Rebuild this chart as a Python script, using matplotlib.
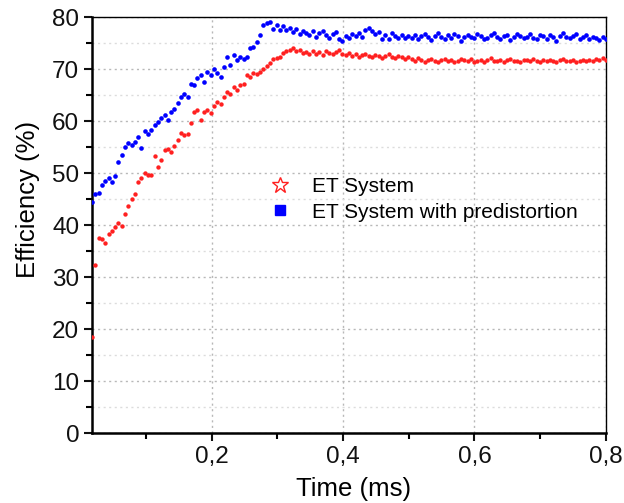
import matplotlib
matplotlib.use('Agg')
import matplotlib.pyplot as plt
from matplotlib.lines import Line2D
from matplotlib.ticker import FuncFormatter, MultipleLocator
import numpy as np

# efficiency samples (%) over the measured burst, one sample every ~5 us
eff_et = [18.5, 32.3, 37.6, 37.3, 36.6, 38.3, 38.9, 39.6, 40.4, 39.8,
          42.1, 43.7, 45.0, 46.0, 48.3, 49.0, 50.0, 49.6, 49.6, 53.3,
          51.2, 52.6, 54.4, 54.6, 54.1, 55.2, 56.3, 57.7, 57.3, 57.6,
          59.7, 61.7, 62.2, 60.2, 61.8, 62.1, 61.5, 62.9, 63.7, 63.3,
          64.7, 65.5, 65.3, 66.6, 66.0, 66.9, 67.2, 68.8, 68.5, 69.2,
          69.0, 69.5, 70.1, 70.6, 71.1, 72.0, 72.2, 72.4, 73.1, 73.5,
          73.7, 74.0, 73.4, 73.6, 73.1,
          73.3, 72.9, 73.4, 73.0, 73.2, 72.8, 73.5, 73.1, 72.9, 73.3, 73.6, 73.0,
          72.8, 73.1, 72.6, 72.9, 72.4, 72.7, 73.0, 72.5, 72.3, 72.8,
          72.6, 72.2, 72.5, 72.9, 72.4, 72.1, 72.6, 72.3, 72.0, 72.4,
          71.9, 71.5, 72.1, 71.7, 71.4, 71.8, 72.0, 71.6, 71.3, 71.7,
          71.9, 71.5, 71.8, 71.4, 71.6, 72.0, 71.7, 71.5, 71.9, 71.3,
          71.6, 71.8, 71.4, 71.7, 72.1, 71.6, 71.5, 71.8, 71.3, 71.7,
          71.9, 71.5, 71.6, 71.4, 71.8, 71.7, 71.5, 71.9, 71.6, 71.3,
          71.7, 71.5, 71.8, 71.6, 71.4, 71.7, 71.9, 71.5, 71.6, 71.8,
          71.4, 71.6, 71.7, 71.5, 71.8, 71.6, 71.9, 71.7, 72.1, 71.8]

eff_pd = [44.5, 46.0, 46.2, 47.7, 48.5, 49.0, 48.3, 49.4, 52.2, 53.5,
          55.1, 55.7, 55.4, 56.0, 57.0, 54.8, 58.0, 57.6, 58.3, 59.2,
          59.9, 60.5, 61.2, 60.3, 61.8, 62.4, 63.4, 64.7, 65.3, 64.7,
          67.2, 66.9, 68.2, 68.8, 67.6, 69.5, 68.9, 70.1, 69.2, 68.5,
          70.4, 72.4, 70.8, 72.7, 71.7, 72.3, 72.0, 72.4, 74.0, 74.3,
          75.3, 76.5, 78.5, 78.8, 79.0, 77.8, 78.4, 77.5, 78.2, 77.6,
          78.0, 77.2, 77.7, 76.8, 77.3,
          77.0, 76.5, 77.4, 76.2, 76.9, 77.3, 76.6, 76.0, 76.8, 77.2, 75.8, 75.4,
          76.3, 75.9, 76.7, 76.4, 77.0, 76.2, 77.6, 78.0, 77.4, 76.8,
          77.1, 75.8, 76.5, 75.7, 76.9, 76.3, 76.0, 76.6, 75.9, 76.4,
          76.0, 76.6, 75.7, 76.3, 76.8, 76.1, 75.6, 76.4, 76.9, 76.2,
          75.8, 76.5, 76.0, 76.7, 76.3, 75.5, 76.1, 76.6, 76.2, 75.9,
          76.8, 76.4, 75.7, 76.0, 76.5, 76.9, 76.2, 75.8, 76.3, 76.6,
          75.6, 76.1, 76.7, 76.4, 75.9, 76.2, 76.8, 76.0, 75.7, 76.5,
          76.3, 75.8, 76.6, 76.1, 75.5, 76.4, 76.9, 76.2, 75.9, 76.3,
          76.7, 75.8, 76.1, 76.5, 75.7, 76.2, 76.0, 75.6, 76.1, 75.8]

t_start = 0.018
t_end = 0.8
t_et = np.linspace(t_start, t_end, len(eff_et))
t_pd = np.linspace(t_start, t_end, len(eff_pd))

labels = ['ET System', 'ET System with predistortion']
xticks = [0.2, 0.4, 0.6, 0.8]

plt.rcParams['font.family'] = ['Liberation Sans', 'DejaVu Sans']

fig = plt.figure(figsize=(6.24, 5.03), dpi=100)
ax = fig.add_axes([0.147, 0.139, 0.824, 0.827])

ax.scatter(t_et, eff_et, s=10, color='#ff2020', linewidths=0, zorder=3)
ax.scatter(t_pd, eff_pd, s=11, color='#0000ff', linewidths=0, zorder=3)

ax.set_xlim(0.0175, 0.8)
ax.set_ylim(0, 80)
ax.set_xticks(xticks)
ax.xaxis.set_minor_locator(MultipleLocator(0.1))
ax.yaxis.set_major_locator(MultipleLocator(10))
ax.yaxis.set_minor_locator(MultipleLocator(5))
ax.xaxis.set_major_formatter(FuncFormatter(lambda v, p: ('%.1f' % v).replace('.', ',')))

ax.grid(True, which='major', linestyle=(0, (1.5, 2.5)), color='#b8b8b8', linewidth=1.0)
ax.grid(True, which='minor', axis='y', linestyle=(0, (1.5, 2.5)), color='#dcdcdc', linewidth=1.0)
ax.set_axisbelow(True)

ax.tick_params(which='major', direction='out', length=6, width=1.5, labelsize=17.5,
               colors='#111111', pad=3)
ax.tick_params(which='minor', direction='out', length=4, width=1.5)
ax.tick_params(top=False, right=False)
ax.spines['left'].set_linewidth(1.8)
ax.spines['bottom'].set_linewidth(1.8)
ax.spines['top'].set_linewidth(1.0)
ax.spines['right'].set_linewidth(1.0)

ax.set_xlabel('Time (ms)', fontsize=18.5)
ax.set_ylabel('Efficiency (%)', fontsize=18.5)
ax.xaxis.set_label_coords(0.51, -0.106)
ax.yaxis.set_label_coords(-0.101, 0.5625)

handles = [Line2D([], [], linestyle='none', marker='*', markersize=12,
                  markerfacecolor='white', markeredgecolor='#ff2020', markeredgewidth=1.0),
           Line2D([], [], linestyle='none', marker='s', markersize=7.5,
                  color='#0000ff')]
ax.legend(handles, labels, loc='upper left', bbox_to_anchor=(0.306, 0.66),
          frameon=False, fontsize=15, handlelength=1.2, handletextpad=0.9,
          labelspacing=0.3)

fig.savefig('out.png', dpi=100)
